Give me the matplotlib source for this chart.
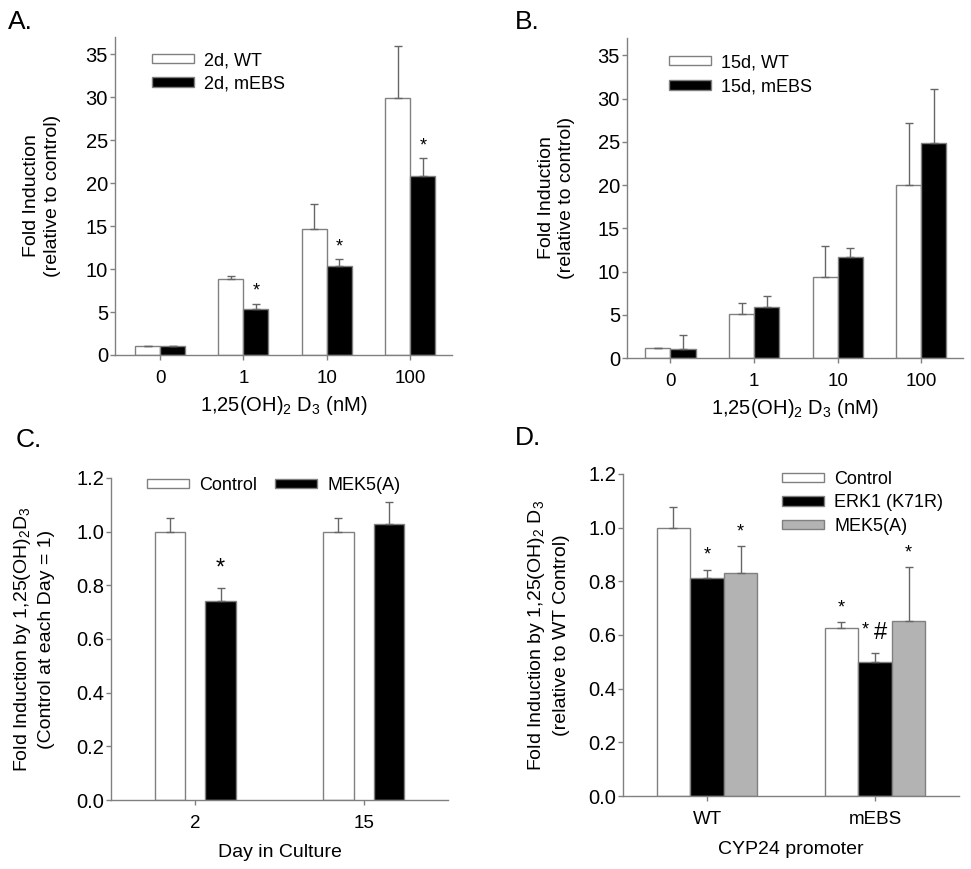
import matplotlib
matplotlib.use("Agg")
import matplotlib.pyplot as plt
import numpy as np
from matplotlib.patches import Patch

plt.rcParams["font.family"] = ["Liberation Sans", "DejaVu Sans"]
plt.rcParams["mathtext.fontset"] = "custom"
plt.rcParams["mathtext.rm"] = "Liberation Sans"
plt.rcParams["mathtext.default"] = "regular"

# panel A / B: dose response
doses = ["0", "1", "10", "100"]
a_wt = [1.0, 8.85, 14.7, 29.9]
a_wt_err = [0.05, 0.38, 2.9, 6.1]
a_mebs = [1.0, 5.35, 10.3, 20.85]
a_mebs_err = [0.05, 0.6, 0.85, 2.05]
a_mebs_sig = [False, True, True, True]

b_wt = [1.1, 5.05, 9.35, 20.05]
b_wt_err = [0.0, 1.3, 3.6, 7.1]
b_mebs = [1.05, 5.85, 11.65, 24.85]
b_mebs_err = [1.6, 1.3, 1.05, 6.2]

# panel C: day in culture
days = ["2", "15"]
c_ctrl = [1.0, 1.0]
c_ctrl_err = [0.05, 0.05]
c_mek = [0.74, 1.03]
c_mek_err = [0.05, 0.08]
c_mek_sig = [True, False]

# panel D: promoter
promoters = ["WT", "mEBS"]
d_ctrl = [1.0, 0.625]
d_ctrl_err = [0.078, 0.025]
d_erk = [0.812, 0.498]
d_erk_err = [0.032, 0.036]
d_mek = [0.83, 0.652]
d_mek_err = [0.10, 0.20]
d_ctrl_sig = [False, True]
d_erk_sig = [True, True]
d_mek_sig = [True, True]

EDGE = "#808080"
ERRC = "#666666"
GREY = "#b3b3b3"

fig = plt.figure(figsize=(9.71, 8.69), dpi=100)


def style_axes(ax):
    for s in ["top", "right"]:
        ax.spines[s].set_visible(False)
    for s in ["left", "bottom"]:
        ax.spines[s].set_color(EDGE)
        ax.spines[s].set_linewidth(1.0)
    ax.tick_params(axis="y", direction="out", length=3.5, width=1, color=EDGE,
                   pad=1.5, labelsize=14.5)
    ax.tick_params(axis="x", direction="out", length=3.5, width=1, color=EDGE,
                   pad=7, labelsize=13.5)


def draw_bars(ax, x, vals, errs, color, width):
    n = len(vals)
    ax.bar(x, vals, width, color=color, edgecolor=EDGE, linewidth=1, zorder=2)
    ax.errorbar(x, vals, yerr=[np.zeros(n), errs], fmt="none", ecolor=ERRC,
                elinewidth=1, capsize=3.2, capthick=1, zorder=3)


def stars(ax, x, vals, errs, sig, dy=6, size=12, dx=0, sym="*"):
    for xi, v, e, s in zip(x, vals, errs, sig):
        if s:
            ax.annotate(sym, (xi, v + e), xytext=(dx, dy), textcoords="offset points",
                        ha="center", va="bottom", fontsize=size)


def bar_legend(ax, labels, colors, x, y, ncol=1, colsp=2.0, lsp=0.35):
    handles = [Patch(facecolor=c, edgecolor=EDGE, linewidth=1) for c in colors]
    ax.legend(handles, labels, loc="upper left", bbox_to_anchor=(x / 971, 1 - y / 869),
              bbox_transform=fig.transFigure, frameon=False, fontsize=13,
              handlelength=2.3, handleheight=0.42, handletextpad=0.6,
              labelspacing=lsp, borderpad=0, borderaxespad=0, ncol=ncol,
              columnspacing=colsp)


# ---------- A ----------
axA = fig.add_axes([115 / 971, 1 - 355 / 869, 337 / 971, 318 / 869])
x = np.arange(len(doses))
draw_bars(axA, x - 0.15, a_wt, a_wt_err, "white", 0.3)
draw_bars(axA, x + 0.15, a_mebs, a_mebs_err, "black", 0.3)
stars(axA, x + 0.15, a_mebs, a_mebs_err, a_mebs_sig, dy=3, size=13)
axA.set_xlim(-0.54, 3.5)
axA.set_ylim(0, 37)
axA.set_yticks(np.arange(0, 36, 5))
axA.set_xticks(x)
axA.set_xticklabels(doses)
axA.set_ylabel("Fold Induction\n(relative to control)", fontsize=14, labelpad=18,
               linespacing=1.3)
axA.set_xlabel("1,25(OH)$_2$ D$_3$ (nM)", fontsize=14.5, labelpad=5)
style_axes(axA)
bar_legend(axA, ["2d, WT", "2d, mEBS"], ["white", "black"], 152, 52)

# ---------- B ----------
axB = fig.add_axes([627 / 971, 1 - 358 / 869, 336 / 971, 320 / 869])
draw_bars(axB, x - 0.15, b_wt, b_wt_err, "white", 0.3)
draw_bars(axB, x + 0.15, b_mebs, b_mebs_err, "black", 0.3)
axB.set_xlim(-0.52, 3.5)
axB.set_ylim(0, 37)
axB.set_yticks(np.arange(0, 36, 5))
axB.set_xticks(x)
axB.set_xticklabels(doses)
axB.set_ylabel("Fold Induction\n(relative to control)", fontsize=14, labelpad=16,
               linespacing=1.3)
axB.set_xlabel("1,25(OH)$_2$ D$_3$ (nM)", fontsize=14.5, labelpad=5)
style_axes(axB)
bar_legend(axB, ["15d, WT", "15d, mEBS"], ["white", "black"], 669, 54, lsp=0.42)

# ---------- C ----------
axC = fig.add_axes([111 / 971, 1 - 800 / 869, 337 / 971, 322 / 869])
xc = np.arange(len(days))
draw_bars(axC, xc - 0.15, c_ctrl, c_ctrl_err, "white", 0.18)
draw_bars(axC, xc + 0.15, c_mek, c_mek_err, "black", 0.18)
stars(axC, xc + 0.15, c_mek, c_mek_err, c_mek_sig, dy=6, size=17)
axC.set_xlim(-0.5, 1.5)
axC.set_ylim(0, 1.2)
axC.set_yticks(np.arange(0, 1.21, 0.2))
axC.yaxis.set_major_formatter(matplotlib.ticker.FormatStrFormatter("%.1f"))
axC.set_xticks(xc)
axC.set_xticklabels(days)
axC.set_ylabel("Fold Induction by 1,25(OH)$_2$D$_3$\n(Control at each Day = 1)",
               fontsize=14, labelpad=15, linespacing=1.4)
axC.set_xlabel("Day in Culture", fontsize=14, labelpad=9)
style_axes(axC)
bar_legend(axC, ["Control", "MEK5(A)"], ["white", "black"], 147, 477, ncol=2, colsp=1.0)

# ---------- D ----------
axD = fig.add_axes([623 / 971, 1 - 796 / 869, 336 / 971, 322 / 869])
xd = np.arange(len(promoters))
draw_bars(axD, xd - 0.2, d_ctrl, d_ctrl_err, "white", 0.2)
draw_bars(axD, xd, d_erk, d_erk_err, "black", 0.2)
draw_bars(axD, xd + 0.2, d_mek, d_mek_err, GREY, 0.2)
stars(axD, xd - 0.2, d_ctrl, d_ctrl_err, d_ctrl_sig, dy=4, size=13)
stars(axD, xd[:1], d_erk[:1], d_erk_err[:1], d_erk_sig[:1], dy=4, size=13)
stars(axD, xd[1:], d_erk[1:], d_erk_err[1:], d_erk_sig[1:], dy=10, size=13, dx=-7)
stars(axD, xd[1:], d_erk[1:], d_erk_err[1:], d_erk_sig[1:], dy=6, size=17, dx=4, sym="#")
stars(axD, xd + 0.2, d_mek, d_mek_err, d_mek_sig, dy=4, size=13)
axD.set_xlim(-0.5, 1.5)
axD.set_ylim(0, 1.2)
axD.set_yticks(np.arange(0, 1.21, 0.2))
axD.yaxis.set_major_formatter(matplotlib.ticker.FormatStrFormatter("%.1f"))
axD.set_xticks(xd)
axD.set_xticklabels(promoters)
axD.set_ylabel("Fold Induction by 1,25(OH)$_2$ D$_3$\n(relative to WT Control)",
               fontsize=14, labelpad=13, linespacing=1.5)
axD.set_xlabel("CYP24 promoter", fontsize=14, labelpad=10)
style_axes(axD)
bar_legend(axD, ["Control", "ERK1 (K71R)", "MEK5(A)"], ["white", "black", GREY], 782, 471)

# panel letters
for lab, px, py in [("A.", 8, 22), ("B.", 515, 22), ("C.", 16, 440), ("D.", 515, 438)]:
    fig.text(px / 971, 1 - py / 869, lab, fontsize=19, va="center", ha="left")

fig.savefig("out.png", dpi=100)
